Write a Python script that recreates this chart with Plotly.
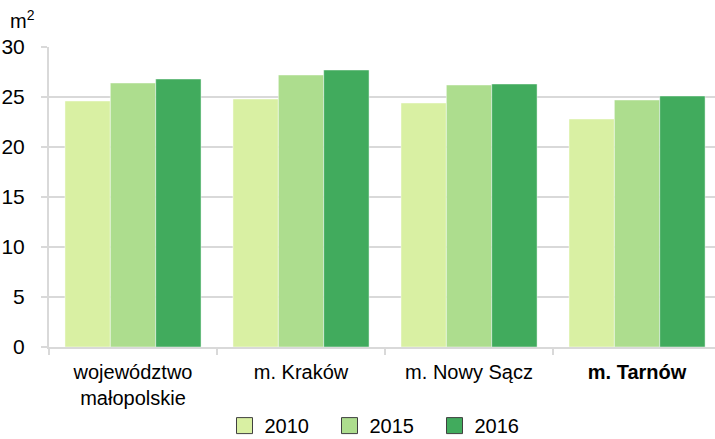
import plotly.graph_objects as go

# Floor area per person (m²) by area and year
categories = ["województwo<br>małopolskie", "m. Kraków", "m. Nowy Sącz", "<b>m. Tarnów</b>"]
years = ["2010", "2015", "2016"]
values_2010 = [24.6, 24.8, 24.4, 22.8]
values_2015 = [26.4, 27.2, 26.2, 24.7]
values_2016 = [26.8, 27.7, 26.3, 25.1]
y_ticks = [0, 5, 10, 15, 20, 25, 30]

colors = ["#d9f0a3", "#addd8e", "#41ab5d"]
series = [values_2010, values_2015, values_2016]

font = "Liberation Sans, Arial, sans-serif"
grid = "#d9d9d9"

fig = go.Figure()
for year, vals, col in zip(years, series, colors):
    fig.add_trace(go.Bar(
        x=categories, y=vals, name=year, marker_color=col,
        marker_line=dict(color="rgba(255,255,255,0.45)", width=1),
        showlegend=False,
    ))

# legend entries: squares with a dark outline
for year, col in zip(years, colors):
    fig.add_trace(go.Scatter(
        x=[None], y=[None], mode="markers", name=year,
        marker=dict(symbol="square", size=16, color=col,
                    line=dict(color="#404040", width=1)),
    ))

fig.update_layout(
    width=715, height=439,
    margin=dict(l=49, r=0, t=47, b=92, autoexpand=False),
    paper_bgcolor="white", plot_bgcolor="white",
    barmode="group", bargap=0.19, bargroupgap=0,
    font=dict(family=font, size=20, color="#000000"),
    legend=dict(orientation="h", x=0.5, xanchor="center", y=-0.262, yanchor="middle",
                font=dict(size=20), entrywidth=60, itemclick=False,
                tracegroupgap=0),
    annotations=[dict(text="m<sup>2</sup>", xref="paper", yref="paper",
                      x=-0.062, y=1.045, xanchor="left", yanchor="bottom",
                      showarrow=False, font=dict(size=20))],
)
fig.update_xaxes(
    type="category", range=[-0.5, 3.464], automargin=False,
    showline=True, linecolor=grid, linewidth=2,
    ticks="outside", tickson="boundaries", ticklen=6, tickcolor=grid, tickwidth=2,
    showgrid=False, tickfont=dict(size=20), ticklabelstandoff=6,
)
fig.update_yaxes(
    range=[0, 30], tickvals=y_ticks, automargin=False,
    showline=True, linecolor=grid, linewidth=2,
    ticks="outside", ticklen=6, tickcolor=grid, tickwidth=2,
    showgrid=True, gridcolor=grid, gridwidth=2, zeroline=False,
    tickfont=dict(size=21), ticklabelstandoff=12,
)

fig.write_html("out.html")
